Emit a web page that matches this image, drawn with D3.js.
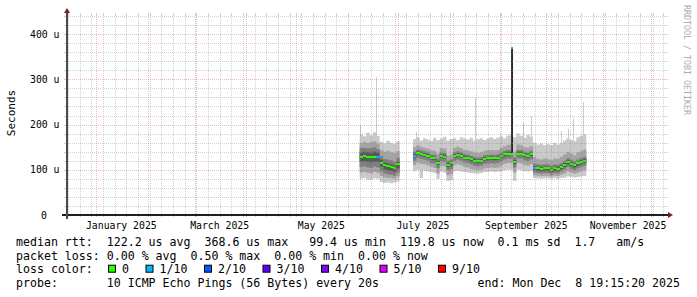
<!DOCTYPE html>
<meta charset="utf-8">
<title>Smokeping - Last 360 Days</title>
<style>

body {
  margin: 0;
  background: #fff;
}

svg {
  display: block;
  font-family: "DejaVu Sans Mono", monospace;
}

.grid line {
  shape-rendering: crispEdges;
}

.minor {
  stroke: rgba(140, 140, 140, 0.42);
}

.major {
  stroke: rgba(222, 80, 80, 0.38);
}

.axis-line {
  shape-rendering: crispEdges;
}

.arrow {
  fill: #801f1f;
}

.tick-label {
  font-size: 9.8px;
  fill: #000;
}

.legend text {
  font-size: 11.6px;
  fill: #000;
  white-space: pre;
}

</style>
<body>
<script src="https://cdn.jsdelivr.net/npm/d3@7"></script>
<script>

// time window of the graph (Smokeping "Last 360 Days")
var rangeStart = "2024-12-13T19:15:20Z",
    rangeEnd = "2025-12-08T19:15:20Z";
var upperLimit = 442.3; // microseconds, axis top
var stepDays = 2;

// first block of data, one sample every 2 days, values in us
var seg1Start = "2025-06-08";
var seg1Median = [129, 130, 129, 128, 129, 128, 116, 110, 108, 106, 103, 112];
var seg1Loss   = [0, 0, 0, 0, 0, 1, 0, 0, 0, 0, 0, 0];
var seg1P1  = [80, 82, 78, 79, 81, 80, 73, 71, 72, 70, 72, 74];
var seg1P2  = [94, 95, 93, 92, 95, 93, 86, 83, 82, 81, 80, 85];
var seg1P3  = [106, 108, 105, 104, 107, 105, 97, 92, 90, 89, 87, 94];
var seg1P4  = [118, 119, 117, 116, 118, 117, 107, 101, 99, 98, 95, 103];
var seg1P7  = [139, 140, 139, 138, 140, 138, 122, 116, 114, 112, 109, 118];
var seg1P8  = [148, 149, 147, 148, 150, 146, 130, 124, 123, 121, 118, 126];
var seg1P9  = [160, 162, 159, 161, 163, 158, 144, 140, 142, 139, 137, 141];
var seg1P10 = [178, 174, 182, 176, 183, 175, 162, 158, 164, 160, 157, 163];

// second block of data
var seg2Start = "2025-07-10";
var seg2Median = [131, 137, 135, 133, 131, 126, 125, 116, 130, 129,
                  111, 114, 131, 133, 131, 127, 126, 123, 120, 119,
                  120, 124, 125, 126, 125, 126, 130, 134, 136, 136,
                  118, 136, 136, 132, 130, 134, 104, 103, 102, 103,
                  103, 99, 103, 102, 106, 111, 117, 113, 110, 114,
                  117, 120];
var seg2Loss = [1, 0, 0, 0, 0, 0, 0, 0, 0, 0,
                0, 0, 0, 0, 0, 0, 0, 0, 0, 0,
                0, 0, 0, 0, 0, 0, 0, 0, 0, 0,
                0, 0, 0, 0, 0, 0, 1, 0, 0, 0,
                0, 0, 0, 0, 0, 0, 0, 0, 0, 0,
                0, 0];
var seg2P1  = [97, 100, 82, 98, 96, 95, 93, 80, 96, 94, 75, 77, 97, 98, 96, 95, 94, 93, 92, 92,
               93, 95, 95, 96, 95, 96, 97, 99, 100, 100, 76, 100, 99, 97, 96, 98, 82, 81, 80, 81,
               81, 80, 81, 80, 82, 83, 85, 84, 83, 84, 85, 86];
var seg2P2  = [110, 116, 113, 112, 110, 106, 104, 92, 108, 107, 88, 90, 110, 112, 110, 106, 105, 102, 100, 99,
               100, 103, 104, 105, 104, 105, 109, 113, 115, 115, 94, 115, 114, 110, 109, 112, 88, 87, 86, 87,
               87, 85, 87, 86, 89, 92, 97, 94, 91, 94, 97, 99];
var seg2P3  = [120, 126, 124, 122, 120, 115, 114, 104, 119, 118, 99, 102, 120, 122, 120, 116, 115, 112, 109, 108,
               109, 113, 114, 115, 114, 115, 119, 123, 125, 125, 105, 125, 125, 121, 119, 123, 94, 93, 92, 93,
               93, 90, 93, 92, 96, 100, 106, 102, 99, 103, 106, 109];
var seg2P4  = [127, 133, 131, 129, 127, 122, 121, 111, 126, 125, 106, 109, 127, 129, 127, 123, 122, 119, 116, 115,
               116, 120, 121, 122, 121, 122, 126, 130, 132, 132, 112, 132, 132, 128, 126, 130, 99, 98, 97, 98,
               98, 95, 98, 97, 101, 106, 112, 108, 105, 109, 112, 115];
var seg2P7  = [135, 141, 139, 137, 135, 130, 129, 120, 134, 133, 115, 118, 135, 137, 135, 131, 130, 127, 124, 123,
               124, 128, 129, 130, 129, 130, 134, 138, 140, 140, 122, 140, 140, 136, 134, 138, 108, 107, 106, 107,
               107, 103, 107, 106, 110, 115, 121, 117, 114, 118, 121, 124];
var seg2P8  = [140, 145, 143, 141, 139, 134, 133, 125, 138, 137, 120, 123, 139, 141, 139, 135, 134, 131, 128, 127,
               128, 132, 133, 134, 133, 134, 138, 142, 144, 144, 127, 144, 144, 140, 138, 142, 114, 112, 111, 112,
               112, 109, 112, 111, 115, 120, 126, 122, 119, 123, 126, 129];
var seg2P9  = [150, 154, 151, 149, 147, 143, 142, 136, 148, 147, 131, 134, 149, 151, 148, 144, 143, 141, 138, 137,
               139, 142, 143, 144, 143, 144, 149, 152, 155, 156, 140, 156, 154, 150, 149, 152, 128, 124, 123, 125,
               124, 121, 125, 124, 129, 134, 140, 136, 132, 138, 141, 145];
var seg2P10 = [168, 172, 165, 170, 167, 164, 171, 166, 169, 173, 165, 168, 170, 166, 172, 169, 167, 171, 165, 168,
               170, 166, 169, 172, 168, 171, 174, 170, 176, 178, 172, 180, 175, 171, 177, 173, 160, 156, 158, 154,
               157, 155, 159, 156, 160, 165, 170, 166, 163, 172, 175, 178];

// single slow pings sticking out of the smoke
var spikeDates = ["2025-06-08", "2025-06-18", "2025-07-12", "2025-08-16", "2025-09-14",
                  "2025-09-19", "2025-10-07", "2025-10-11", "2025-10-14", "2025-10-20"];
var spikeTops  = [199, 305, 184, 260, 203, 219, 186, 190, 214, 250];

// the one sample where every ping was slow
var bigSpikeDate = "2025-09-07",
    bigSpikeTop = 368.6,
    bigSpikeBottom = 136;

var lossLabels = ["0", "1/10", "2/10", "3/10", "4/10", "5/10", "9/10"];
var lossColors = ["#26ff00", "#00b8ff", "#0059ff", "#5e00ff", "#7e00ff", "#dd00ff", "#ff0000"];
var smokeColors = ["#cacaca", "#a4a4a4", "#7e7e7e", "#585858"];

var yTicks = [0, 100, 200, 300, 400];
var yTickLabels = ["0", "100 u", "200 u", "300 u", "400 u"];

var legendLines = [
  "median rtt:  122.2 us avg  368.6 us max   99.4 us min  119.8 us now  0.1 ms sd  1.7   am/s",
  "packet loss: 0.00 % avg  0.50 % max  0.00 % min  0.00 % now"
];
var probeText = "probe:       10 ICMP Echo Pings (56 Bytes) every 20s";
var endText = "end: Mon Dec  8 19:15:20 2025";

var width = 697, height = 297;
var plot = {left: 66, top: 15, width: 600, height: 200};

var svg = d3.select("body").append("svg")
    .attr("width", width)
    .attr("height", height);

var x = d3.scaleUtc()
    .domain([new Date(rangeStart), new Date(rangeEnd)])
    .range([plot.left, plot.left + plot.width]);

var y = d3.scaleLinear()
    .domain([0, upperLimit])
    .range([plot.top + plot.height, plot.top]);

var y0 = plot.top + plot.height;

function day(s) { return new Date(s + "T00:00:00Z"); }

function buildSeg(start, med, loss, lo, hi) {
  var t0 = day(start);
  return med.map(function(m, i) {
    return {
      t0: d3.utcDay.offset(t0, i * stepDays),
      t1: d3.utcDay.offset(t0, (i + 1) * stepDays),
      med: m,
      loss: loss[i],
      lo: lo.map(function(a) { return a[i]; }),
      hi: hi.map(function(a) { return a[i]; })
    };
  });
}

var segments = [
  buildSeg(seg1Start, seg1Median, seg1Loss,
      [seg1P1, seg1P2, seg1P3, seg1P4], [seg1P10, seg1P9, seg1P8, seg1P7]),
  buildSeg(seg2Start, seg2Median, seg2Loss,
      [seg2P1, seg2P2, seg2P3, seg2P4], [seg2P10, seg2P9, seg2P8, seg2P7])
];

// ---- smoke ----
var chart = svg.append("g");

chart.selectAll(".spike")
    .data(spikeDates)
  .enter().append("rect")
    .attr("class", "spike")
    .attr("x", function(d) { return Math.round(x(day(d))); })
    .attr("width", 1)
    .attr("y", function(d, i) { return y(spikeTops[i]); })
    .attr("height", function(d, i) { return y(120) - y(spikeTops[i]); })
    .attr("fill", smokeColors[0]);

segments.forEach(function(seg) {
  var pts = seg.map(function(s) { return {t: s.t0, lo: s.lo, hi: s.hi}; });
  var last = seg[seg.length - 1];
  pts.push({t: last.t1, lo: last.lo, hi: last.hi});

  smokeColors.forEach(function(col, k) {
    var area = d3.area()
        .curve(d3.curveStepAfter)
        .x(function(p) { return x(p.t); })
        .y0(function(p) { return y(p.lo[k]); })
        .y1(function(p) { return y(p.hi[k]); });
    chart.append("path")
        .attr("d", area(pts))
        .attr("fill", col);
  });
});

// all-slow sample
var bx = Math.round(x(day(bigSpikeDate)));
chart.append("rect")
    .attr("x", bx).attr("width", 2)
    .attr("y", y(bigSpikeTop)).attr("height", y(bigSpikeBottom) - y(bigSpikeTop))
    .attr("fill", "#262626");
chart.append("rect")
    .attr("x", bx).attr("width", 2)
    .attr("y", Math.round(y(bigSpikeTop)) - 1).attr("height", 2)
    .attr("fill", lossColors[1]);

// median, coloured by loss
segments.forEach(function(seg) {
  chart.selectAll(null)
      .data(seg)
    .enter().append("rect")
      .attr("x", function(s) { return Math.round(x(s.t0)); })
      .attr("width", function(s) { return Math.round(x(s.t1)) - Math.round(x(s.t0)); })
      .attr("y", function(s) { return Math.round(y(s.med)) - 1; })
      .attr("height", 2)
      .attr("fill", function(s) { return lossColors[s.loss]; });
});

// ---- grid (drawn over the graph, like rrdtool) ----
var grid = svg.append("g").attr("class", "grid");

var hMinor = d3.range(20, upperLimit, 20).filter(function(v) { return v % 100 !== 0; });
var hMajor = d3.range(100, upperLimit, 100);

function hLine(v, cls) {
  var yy = Math.round(y(v)) + 0.5;
  grid.append("line").attr("class", cls)
      .attr("x1", plot.left).attr("x2", plot.left + plot.width)
      .attr("y1", yy).attr("y2", yy)
      .attr("stroke-dasharray", "1,1");
  grid.append("line").attr("class", cls)
      .attr("x1", plot.left - 2).attr("x2", plot.left)
      .attr("y1", yy).attr("y2", yy);
  grid.append("line").attr("class", cls)
      .attr("x1", plot.left + plot.width).attr("x2", plot.left + plot.width + 2)
      .attr("y1", yy).attr("y2", yy);
}

function vLine(t, cls) {
  var xx = Math.round(x(t)) + 0.5;
  grid.append("line").attr("class", cls)
      .attr("x1", xx).attr("x2", xx)
      .attr("y1", plot.top).attr("y2", y0)
      .attr("stroke-dasharray", "1,1");
  grid.append("line").attr("class", cls)
      .attr("x1", xx).attr("x2", xx)
      .attr("y1", plot.top - 2).attr("y2", plot.top);
  grid.append("line").attr("class", cls)
      .attr("x1", xx).attr("x2", xx)
      .attr("y1", y0).attr("y2", y0 + 2);
}

var months = d3.utcMonth.range(x.domain()[0], x.domain()[1]);
var weeks = d3.utcSunday.range(x.domain()[0], x.domain()[1]).filter(function(t) {
  return t.getUTCDate() !== 1;
});

hMinor.forEach(function(v) { hLine(v, "minor"); });
weeks.forEach(function(t) { vLine(t, "minor"); });
hMajor.forEach(function(v) { hLine(v, "major"); });
months.forEach(function(t) { vLine(t, "major"); });

// ---- axes ----
svg.append("line").attr("class", "axis-line")
    .attr("x1", plot.left - 4).attr("x2", plot.left + plot.width + 4)
    .attr("y1", y0).attr("y2", y0)
    .attr("stroke", "#1f1f1f")
    .attr("stroke-width", 2);
svg.append("line").attr("class", "axis-line")
    .attr("x1", plot.left + 1).attr("x2", plot.left + 1)
    .attr("y1", y0 + 4).attr("y2", plot.top - 4)
    .attr("stroke", "#4a4a4a")
    .attr("stroke-width", 2);

svg.append("path").attr("class", "arrow")
    .attr("d", "M" + (plot.left + plot.width + 2) + "," + (y0 - 3) +
               "L" + (plot.left + plot.width + 2) + "," + (y0 + 3) +
               "L" + (plot.left + plot.width + 7) + "," + y0 + "Z");
svg.append("path").attr("class", "arrow")
    .attr("d", "M" + (plot.left - 2) + "," + (plot.top - 2) +
               "L" + (plot.left + 4) + "," + (plot.top - 2) +
               "L" + (plot.left + 1) + "," + (plot.top - 7) + "Z");

svg.selectAll(".ylab")
    .data(yTicks)
  .enter().append("text")
    .attr("class", "tick-label")
    .attr("x", function(d) { return d === 0 ? 47 : 59.5; })
    .attr("y", function(d) { return y(d) + 3.6; })
    .attr("text-anchor", "end")
    .text(function(d, i) { return yTickLabels[i]; });

var labelMonths = months.filter(function(t) { return t.getUTCMonth() % 2 === 0; });
svg.selectAll(".xlab")
    .data(labelMonths)
  .enter().append("text")
    .attr("class", "tick-label")
    .attr("x", function(t) { return x(new Date(+t + 15 * 864e5)); })
    .attr("y", 228.5)
    .attr("text-anchor", "middle")
    .text(d3.utcFormat("%B %Y"));

svg.append("text")
    .attr("transform", "translate(15,113) rotate(-90)")
    .attr("text-anchor", "middle")
    .style("font-size", "11px")
    .text("Seconds");

svg.append("text")
    .attr("transform", "translate(684,5) rotate(90)")
    .style("font-size", "8.3px")
    .attr("fill", "#acacac")
    .text("RRDTOOL / TOBI OETIKER");

// ---- legend ----
var legend = svg.append("g").attr("class", "legend");
var baselines = [245.8, 259.5, 273.2, 286.9];

legendLines.forEach(function(s, i) {
  legend.append("text").attr("x", 16).attr("y", baselines[i]).text(s);
});

legend.append("text").attr("x", 16).attr("y", baselines[2]).text("loss color:");
var bxPos = 108;
lossLabels.forEach(function(lab, i) {
  legend.append("rect")
      .attr("x", bxPos + 0.5).attr("y", baselines[2] - 8)
      .attr("width", 7).attr("height", 7)
      .attr("fill", lossColors[i])
      .attr("stroke", "#000");
  legend.append("text").attr("x", bxPos + 14).attr("y", baselines[2]).text(lab);
  bxPos += 14 + 7 * lab.length + 16.5;
});

legend.append("text").attr("x", 16).attr("y", baselines[3]).text(probeText);
legend.append("text").attr("x", 680).attr("y", baselines[3])
    .attr("text-anchor", "end").text(endText);

</script>
